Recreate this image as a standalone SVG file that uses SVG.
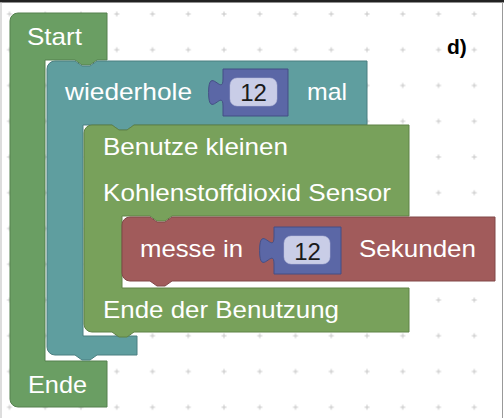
<svg xmlns="http://www.w3.org/2000/svg" width="504" height="418" viewBox="0 0 504 418">
<defs>
<pattern id="grid" patternUnits="userSpaceOnUse" x="-8.375" y="-3.875" width="35.75" height="35.75">
<path d="M15.4,17.875h5M17.875,15.4v5" stroke="#c8c8c8" stroke-width="1" fill="none"/>
</pattern>
</defs>
<style>
.lbl{font-family:"Liberation Sans",Arial,sans-serif;font-size:24px;fill:#ffffff}
.num{font-family:"Liberation Sans",Arial,sans-serif;font-size:24px;fill:#1a1a1a;text-anchor:middle}
.start{fill:#6a9e63;stroke:#55804f;stroke-width:1}
.loop{fill:#5f9e9f;stroke:#4b7f80;stroke-width:1}
.use{fill:#78a15b;stroke:#5f8247;stroke-width:1}
.meas{fill:#a15b5b;stroke:#814848;stroke-width:1}
.val{fill:#5b67a6;stroke:#454f85;stroke-width:1}
.field{fill:#c9cde7;stroke:#b5b9d8;stroke-width:0.5}
</style>
<rect x="0" y="0" width="504" height="418" fill="#ffffff"/>
<rect x="0" y="0" width="504" height="418" fill="url(#grid)"/>
<rect x="0" y="0" width="504" height="2.5" fill="#222222"/>
<line x1="1" y1="2" x2="1" y2="418" stroke="#bbbbbb" stroke-width="1"/>
<line x1="502.5" y1="2" x2="502.5" y2="418" stroke="#999999" stroke-width="1"/>

<g id="start">
<path class="start" d="M10,21A8,8 0 0 1 18,13H107V60H97l-7,5h-8l-7,-5H45V361H107V407H18A8,8 0 0 1 10,399Z"/>
<text class="lbl" x="27" y="45" textLength="55" lengthAdjust="spacingAndGlyphs">Start</text>
<text class="lbl" x="28" y="393" textLength="59" lengthAdjust="spacingAndGlyphs">Ende</text>
</g>

<g id="repeat">
<path class="loop" d="M47,69A8,8 0 0 1 55,61H75l7,5h8l7,-5H367V125H134l-7,5h-8l-7,-5H83V336H137V355H97l-7,5h-8l-7,-5H55A8,8 0 0 1 47,347Z"/>
<text class="lbl" x="65" y="100" textLength="127" lengthAdjust="spacingAndGlyphs">wiederhole</text>
<text class="lbl" x="307" y="100" textLength="40" lengthAdjust="spacingAndGlyphs">mal</text>
</g>

<g id="repeat-count">
<path class="val" d="M288,69H223V79c0,18 -14.4,-14.4 -14.4,13.5s14.4,-4.5 14.4,13.5V116H288Z"/>
<rect class="field" x="230" y="78" width="47" height="28" rx="7"/>
<text class="num" x="253.5" y="100.5">12</text>
</g>

<g id="use-sensor">
<path class="use" d="M84,133A8,8 0 0 1 92,125H112l7,5h8l7,-5H409V216H172l-7,5h-8l-7,-5H122V288H409V332H134l-7,5h-8l-7,-5H92A8,8 0 0 1 84,324Z"/>
<text class="lbl" x="103" y="155" textLength="185" lengthAdjust="spacingAndGlyphs">Benutze kleinen</text>
<text class="lbl" x="103" y="201" textLength="288" lengthAdjust="spacingAndGlyphs">Kohlenstoffdioxid Sensor</text>
<text class="lbl" x="103" y="318" textLength="236" lengthAdjust="spacingAndGlyphs">Ende der Benutzung</text>
</g>

<g id="measure">
<path class="meas" d="M122,225A8,8 0 0 1 130,217H150l7,5h8l7,-5H495V281H172l-7,5h-8l-7,-5H130A8,8 0 0 1 122,273Z"/>
<text class="lbl" x="140" y="257" textLength="103" lengthAdjust="spacingAndGlyphs">messe in</text>
<text class="lbl" x="359" y="257" textLength="117" lengthAdjust="spacingAndGlyphs">Sekunden</text>
</g>

<g id="measure-seconds">
<path class="val" d="M341,227H274V237c0,18 -14.4,-14.4 -14.4,13.5s14.4,-4.5 14.4,13.5V274H341Z"/>
<rect class="field" x="284" y="236" width="46" height="28" rx="7"/>
<text class="num" x="307.5" y="259.5">12</text>
</g>

<g id="connectors"></g>

<text x="447" y="54" font-family="'Liberation Sans',Arial,sans-serif" font-size="21" font-weight="bold" fill="#000000">d)</text>
</svg>
